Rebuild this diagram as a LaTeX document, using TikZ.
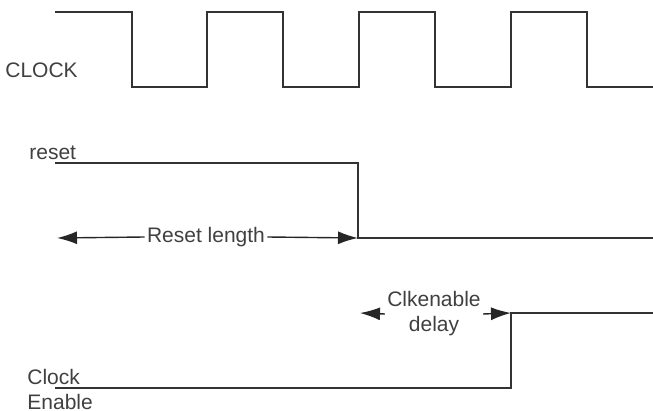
\documentclass[tikz,border=0pt]{standalone}
\usepackage{fontspec}
\setmainfont{Liberation Sans}
\usetikzlibrary{arrows.meta}

\begin{document}
\begin{tikzpicture}[x=0.5pt,y=-0.5pt]
\tikzset{
wave/.style={line width=0.9pt, draw=black!80, line join=miter},
lbl/.style={font=\fontsize{10.5}{12.5}\selectfont, text=black!75, inner sep=1pt},
span/.style={line width=0.7pt, draw=black!85, -{Latex[length=10pt,width=6.5pt]}},
}
\useasboundingbox (0,0) rectangle (653,411);

% clock
\draw[wave] (55,12) -- (132,12) -- (132,87) -- (207,87) -- (207,12) -- (283,12)
  -- (283,87) -- (359,87) -- (359,12) -- (435,12) -- (435,87) -- (511,87)
  -- (511,12) -- (587,12) -- (587,87) -- (653,87);
\node[lbl, anchor=west] (clk) at (3,70) {CLOCK};

% reset
\coordinate (rstfall) at (358,238);
\coordinate (rstbeg) at (57,238);
\draw[wave, line width=0.7pt] (55,163) -- (358,163) -- (rstfall) -- (653,238);
\node[lbl, anchor=west] (rst) at (27,153) {reset};
\node[lbl] (rstlen) at (206,237) {Reset length};
\draw[span] (rstlen.west) -- (rstbeg);
\draw[span] (rstlen.east) -- (rstfall);

% clock enable
\coordinate (cerise) at (511,313);
\coordinate (cedbeg) at (360,313);
\draw[wave] (55,388) -- (511,388) -- (cerise) -- (653,313);
\node[lbl, align=left, anchor=west] (cen) at (25,389) {Clock\\Enable};
\node[lbl, align=center] (cedly) at (434,314) {Clkenable\\delay};
\draw[span] (cedly.west) -- (cedbeg);
\draw[span] (cedly.east) -- (cerise);

\end{tikzpicture}
\end{document}
